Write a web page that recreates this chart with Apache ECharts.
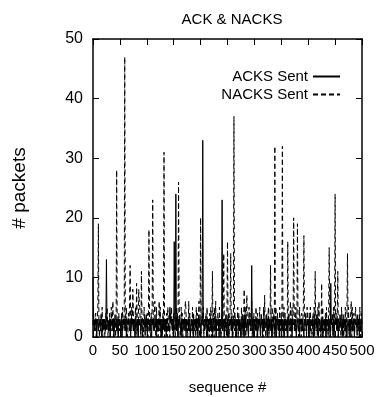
<!DOCTYPE html>
<html lang="en">
<head>
    <meta charset="UTF-8">
    <title>ACK & NACKS</title>
    <script src="https://cdn.jsdelivr.net/npm/echarts@6.0.0/dist/echarts.min.js"></script>
    <style type="text/css">
        html, body { margin: 0; padding: 0; background: #fff; }
        #chart { width: 377px; height: 397px; }
    </style>
</head>
<body>
<div id="chart"></div>
<script>
    // x ticks / y ticks
    var seqTicks = [0, 50, 100, 150, 200, 250, 300, 350, 400, 450, 500];
    var pktTicks = [0, 10, 20, 30, 40, 50];

    // low-level counts per sequence number, one digit each (0..500)
    var ackBase =
        "03313230331332330313233130233313033231303323133032" +
        "33130233231303323313032331330233130323313303233132" +
        "30323313303233132303313323303132331302333130332313" +
        "03323133032331302332313033231330233130323313303233" +
        "13230331332330313233130233313033231303323133032331" +
        "30233231303323313032331330233130323313303233132303" +
        "23313303233132303313323303132331302333130332313033" +
        "23133032331302332313033231330233130323313303233132" +
        "30331332330313233130233313033231303323133032331302" +
        "33231303323313032331330233130323313303233132303313" +
        "3";
    var nackBase =
        "25131402351203142503130241520314025136021403512041" +
        "32041523104253014260315204132501420365102430152034" +
        "14025310425031462051302415032041502314053120425130" +
        "41203514026301524031250413025140231504123052413602" +
        "30142503124051320415023140526031420513024150321405" +
        "12403521430251403125041320514023150412305241360214" +
        "03152041325014230517302413502143051240315024130521" +
        "40231504123052413602513042150324015230412503142053" +
        "21405130241503214052613024150321405130425013240531" +
        "02413502143052140315024135021430512403152041325014" +
        "2";

    // the tall spikes
    var ackSpikeSeq = [0, 25, 143, 151, 154, 204, 240, 295, 442];
    var ackSpikeVal = [10, 13, 5, 16, 24, 33, 23, 12, 9];
    var nackSpikeSeq = [10, 44, 59, 69, 74, 81, 85, 90, 104, 111, 123, 132, 159, 172, 178, 200, 222, 243,
        250, 256, 262, 281, 286, 330, 338, 352, 362, 373, 380, 392, 413, 425, 439, 450, 455, 473, 480, 488];
    var nackSpikeVal = [19, 28, 47, 12, 8, 9, 8, 11, 18, 23, 6, 31, 26, 6, 6, 20, 11, 14,
        16, 14, 37, 8, 7, 12, 32, 32, 16, 20, 19, 17, 11, 9, 15, 24, 11, 14, 6, 5];

    function build(base, spikeSeq, spikeVal) {
        var out = [];
        for (var i = 0; i < base.length; i++) {
            out.push([i, Number(base.charAt(i))]);
        }
        spikeSeq.forEach(function (s, k) { out[s][1] = spikeVal[k]; });
        return out;
    }
    var acks = build(ackBase, ackSpikeSeq, ackSpikeVal);
    var nacks = build(nackBase, nackSpikeSeq, nackSpikeVal);

    var font = '"Liberation Sans", Arial, sans-serif';
    var tickStyle = { show: true, inside: true, length: 6, lineStyle: { color: '#000', width: 1 } };
    var lineAxis = { show: true, onZero: false, lineStyle: { color: '#000', width: 1.5 } };

    var chart = echarts.init(document.getElementById('chart'));
    chart.setOption({
        animation: false,
        backgroundColor: '#fff',
        title: {
            text: 'ACK & NACKS',
            left: 227, top: 7, textAlign: 'center',
            textStyle: { fontFamily: font, fontSize: 15, fontWeight: 'normal', color: '#000' }
        },
        legend: {
            orient: 'vertical', right: 31, top: 64, align: 'right',
            itemWidth: 27, itemHeight: 14, itemGap: 3,
            itemStyle: { opacity: 0 },
            textStyle: { fontFamily: font, fontSize: 15, color: '#000' },
            data: ['ACKS Sent', 'NACKS Sent']
        },
        grid: { left: 93, right: 15, top: 39, bottom: 60, containLabel: false, outerBoundsMode: 'none' },
        xAxis: [{
            type: 'value', min: 0, max: 500, interval: 50,
            name: 'sequence #', nameLocation: 'middle', nameGap: 43,
            nameTextStyle: { fontFamily: font, fontSize: 15, color: '#000' },
            axisLine: lineAxis, axisTick: tickStyle, splitLine: { show: false },
            axisLabel: { fontFamily: font, fontSize: 15, color: '#000', margin: 6,
                showMinLabel: true, showMaxLabel: true, hideOverlap: false,
                formatter: function (v) { return seqTicks.indexOf(v) >= 0 ? String(v) : ''; } }
        }, {
            type: 'value', min: 0, max: 500, interval: 50, position: 'top',
            axisLine: lineAxis, axisTick: tickStyle, axisLabel: { show: false }, splitLine: { show: false }
        }],
        yAxis: [{
            type: 'value', min: 0, max: 50, interval: 10,
            name: '# packets', nameLocation: 'middle', nameGap: 64, nameRotate: 90,
            nameTextStyle: { fontFamily: font, fontSize: 19, color: '#000' },
            axisLine: lineAxis, axisTick: tickStyle, splitLine: { show: false },
            axisLabel: { fontFamily: font, fontSize: 16, color: '#000', margin: 10,
                formatter: function (v) { return pktTicks.indexOf(v) >= 0 ? String(v) : ''; } }
        }, {
            type: 'value', min: 0, max: 50, interval: 10, position: 'right',
            axisLine: lineAxis, axisTick: tickStyle, axisLabel: { show: false }, splitLine: { show: false }
        }],
        series: [{
            name: 'ACKS Sent', type: 'line', data: acks,
            symbol: 'none', sampling: 'none', clip: true,
            lineStyle: { color: '#000', width: 1 }, itemStyle: { color: '#000' }
        }, {
            name: 'NACKS Sent', type: 'line', data: nacks,
            symbol: 'none', sampling: 'none', clip: true,
            lineStyle: { color: '#000', width: 1, type: [5, 3] }, itemStyle: { color: '#000' }
        }]
    });
</script>
</body>
</html>
